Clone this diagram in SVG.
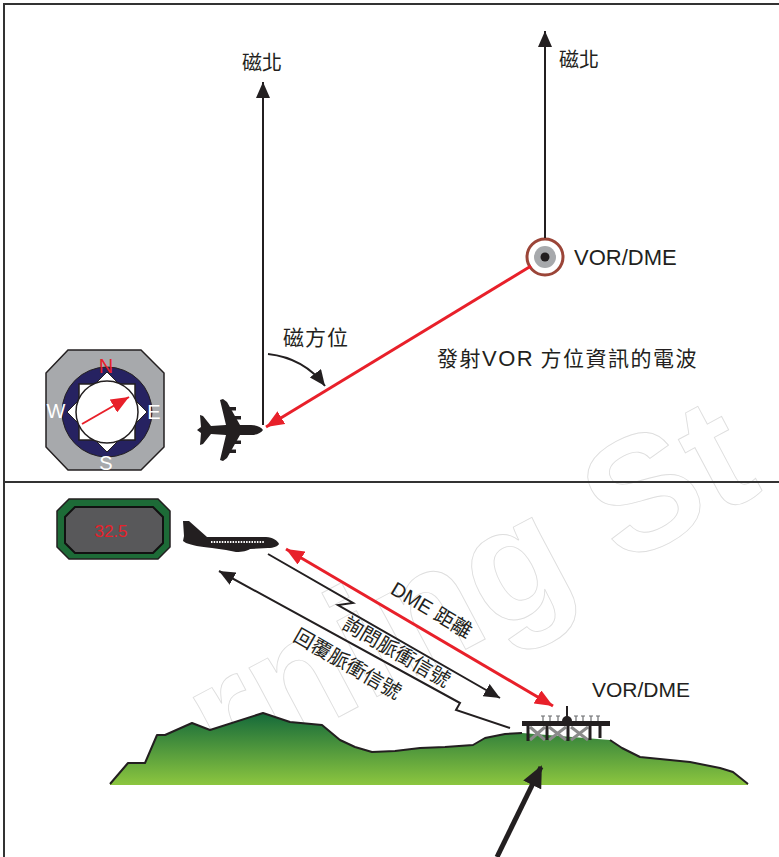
<svg xmlns="http://www.w3.org/2000/svg" width="779" height="857" viewBox="0 0 779 857">
  <style>
    .frame { fill: none; stroke: #333; stroke-width: 2; }
    .lbl { font-family: "Liberation Sans", "Noto Sans CJK TC", sans-serif; fill: #231f20; }
    .cjk { font-family: "Noto Sans CJK TC", "Liberation Sans", sans-serif; fill: #231f20; }
    .blk { stroke: #231f20; stroke-width: 2; fill: none; }
    .red { stroke: #e8202a; stroke-width: 3; fill: none; }
    .wm { font-family: "Liberation Sans", sans-serif; font-weight: bold; fill: none; stroke: #dedede; stroke-width: 0.9; }
    .dir { font-family: "Liberation Sans", sans-serif; font-size: 20px; fill: #fff; text-anchor: middle; }
  </style>
  <defs>
    <marker id="ahBlack" viewBox="0 0 16 14" refX="16" refY="7" markerWidth="16" markerHeight="14" orient="auto-start-reverse" markerUnits="userSpaceOnUse">
      <path d="M0,0 L16,7 L0,14 Z" fill="#231f20"/>
    </marker>
    <marker id="ahRed" viewBox="0 0 18 15" refX="18" refY="7.5" markerWidth="18" markerHeight="15" orient="auto-start-reverse" markerUnits="userSpaceOnUse">
      <path d="M0,0 L18,7.5 L0,15 Z" fill="#e8202a"/>
    </marker>
    <marker id="ahThick" viewBox="0 0 22 20" refX="20" refY="10" markerWidth="22" markerHeight="20" orient="auto" markerUnits="userSpaceOnUse">
      <path d="M0,0 L22,10 L0,20 Z" fill="#231f20"/>
    </marker>
    <linearGradient id="hill" x1="0" y1="713" x2="0" y2="785" gradientUnits="userSpaceOnUse">
      <stop offset="0" stop-color="#14693a"/>
      <stop offset="1" stop-color="#8cc63f"/>
    </linearGradient>
  </defs>

  <!-- watermark -->
  <text class="wm" font-size="162" transform="translate(224,778) rotate(-28)">rning St</text>

  <!-- panel frame -->
  <g id="frame">
    <path class="frame" d="M4,857 L4,4 L779,4"/>
    <path class="frame" d="M4,482 L779,482"/>
  </g>

  <!-- ===== upper panel ===== -->
  <g id="compass">
    <polygon points="68,350 141,350 164,373 164,447 141,470 68,470 46,447 46,373" fill="#a7a9ac" stroke="#231f20" stroke-width="1.5"/>
    <circle cx="107" cy="412" r="45" fill="#262261" stroke="#231f20" stroke-width="1"/>
    <polygon points="107,372 147,412 107,452 67,412" fill="#fff" stroke="#231f20" stroke-width="1"/>
    <rect x="79" y="384" width="56" height="56" fill="#fff" stroke="#231f20" stroke-width="1.5"/>
    <circle cx="107" cy="412" r="31" fill="#fff" stroke="#231f20" stroke-width="1.5"/>
    <line x1="82" y1="424" x2="129" y2="397" stroke="#e8202a" stroke-width="2" marker-end="url(#ahRed)"/>
    <text x="106" y="373" class="dir" style="fill:#e8202a">N</text>
    <text x="154" y="419" class="dir">E</text>
    <text x="56" y="418" class="dir">W</text>
    <text x="106" y="470" class="dir">S</text>
  </g>

  <g id="plane-top" transform="translate(263,430)">
    <path fill="#231f20" d="M0,0 C-2,-3 -6,-5 -12,-5 L-23,-5 L-36,-28 L-40,-31 L-43,-30 L-37,-5 L-52,-4 L-60,-14 L-63,-15 L-62,-3 L-66,0 L-62,3 L-63,15 L-60,14 L-52,4 L-37,5 L-43,30 L-40,31 L-36,28 L-23,5 L-12,5 C-6,5 -2,3 0,0 Z"/>
    <rect x="-31" y="-14" width="9" height="3.5" fill="#231f20"/>
    <rect x="-36" y="-23" width="9" height="3.5" fill="#231f20"/>
    <rect x="-31" y="10.5" width="9" height="3.5" fill="#231f20"/>
    <rect x="-36" y="19.5" width="9" height="3.5" fill="#231f20"/>
  </g>

  <g id="vor-top">
    <circle cx="545" cy="257" r="18" fill="#fff" stroke="#9b4538" stroke-width="3"/>
    <circle cx="545" cy="257" r="11" fill="#a7a9ac"/>
    <circle cx="545" cy="257" r="4.5" fill="#231f20"/>
    <text x="574" y="265" class="lbl" font-size="22">VOR/DME</text>
  </g>

  <g id="labels-top">
    <text x="262" y="70" class="cjk" font-size="20" text-anchor="middle">磁北</text>
    <text x="579" y="67" class="cjk" font-size="20" text-anchor="middle">磁北</text>
    <text x="283" y="345" class="cjk" font-size="21" letter-spacing="1">磁方位</text>
    <text x="437" y="366" class="cjk" font-size="21" letter-spacing="1.5">發射<tspan class="lbl" font-size="22">VOR</tspan> 方位資訊的電波</text>
  </g>

  <g id="connectors-top">
    <line class="blk" x1="263" y1="425" x2="263" y2="82" marker-end="url(#ahBlack)"/>
    <line class="blk" x1="545" y1="238" x2="545" y2="31" marker-end="url(#ahBlack)"/>
    <line class="red" x1="531" y1="266" x2="266" y2="427" marker-end="url(#ahRed)"/>
    <path class="blk" d="M268,354 Q304,358 325,386" marker-end="url(#ahBlack)"/>
  </g>

  <!-- ===== lower panel ===== -->
  <g id="dme-display">
    <polygon points="69,499 158,499 170,511 170,547 158,559 69,559 57,547 57,511" fill="#1d6b37" stroke="#231f20" stroke-width="1.5"/>
    <polygon points="75,507 153,507 163,517 163,543 153,553 75,553 65,543 65,517" fill="#58585a" stroke="#111" stroke-width="2"/>
    <text x="111" y="537" class="lbl" font-size="17" text-anchor="middle" style="fill:#e8202a">32.5</text>
  </g>

  <g id="plane-side">
    <path fill="#231f20" d="M183,521 L189,521 L207,537 L266,537 C273,537 278,541 279,544 C278,546 274,548 268,548 L250,549 C247,551 243,552 236,552 L226,550 L212,548 C200,547 192,545 186,543 L183,541 L184,536 Z"/>
    <line x1="211" y1="542" x2="264" y2="542" stroke="#fff" stroke-width="2" stroke-dasharray="1.5,1.2"/>
  </g>

  <g id="hill">
    <path fill="url(#hill)" d="M110,784 L128,763 L145,763 L157,735 L165,735 L192,723 L210,730 L263,713 L290,722 L322,725 L340,740 L355,747 L372,752 L395,751 L420,748 L445,747 L473,745 L485,738 L505,734 L522,733 L610,740 L622,748 L640,757 L690,762 L720,768 L733,772 L748,784 L748,785 L110,785 Z"/>
    <path fill="none" stroke="#231f20" stroke-width="2" stroke-linejoin="round" d="M110,784 L128,763 L145,763 L157,735 L165,735 L192,723 L210,730 L263,713 L290,722 L322,725 L340,740 L355,747 L372,752 L395,751 L420,748 L445,747 L473,745 L485,738 L505,734 L522,733 M610,740 L622,748 L640,757 L690,762 L720,768 L733,772 L748,784"/>
  </g>

  <g id="vor-station">
    <g stroke="#8a8a8a" stroke-width="3">
      <line x1="530" y1="727" x2="545" y2="740"/><line x1="545" y1="727" x2="530" y2="740"/>
      <line x1="549" y1="727" x2="566" y2="740"/><line x1="566" y1="727" x2="549" y2="740"/>
      <line x1="571" y1="727" x2="588" y2="740"/><line x1="588" y1="727" x2="571" y2="740"/>
    </g>
    <g stroke="#231f20" stroke-width="3">
      <line x1="528" y1="724" x2="528" y2="741"/>
      <line x1="547" y1="724" x2="547" y2="740"/>
      <line x1="568" y1="724" x2="568" y2="741"/>
      <line x1="590" y1="724" x2="590" y2="740"/>
      <line x1="600" y1="724" x2="600" y2="738"/>
    </g>
    <rect x="522" y="721" width="88" height="5" fill="#231f20"/>
    <g stroke="#6d6e71" stroke-width="1.2">
      <path d="M541,716 h4 M543,716 v5 M548,716 h4 M550,716 v5 M556,716 h4 M558,716 v5 M574,716 h4 M576,716 v5 M581,716 h4 M583,716 v5 M589,716 h4 M591,716 v5 M596,716 h4 M598,716 v5"/>
    </g>
    <line x1="567" y1="706" x2="567" y2="718" stroke="#231f20" stroke-width="2"/>
    <path d="M562,721 a5,5 0 0 1 10,0 Z" fill="#231f20"/>
    <text x="592" y="697" class="lbl" font-size="21">VOR/DME</text>
  </g>

  <g id="connectors-bottom">
    <line class="red" x1="286" y1="549" x2="553" y2="706" marker-start="url(#ahRed)" marker-end="url(#ahRed)"/>
    <polyline class="blk" points="268,554 353,603 338,605 500,698" stroke-width="1.8" marker-end="url(#ahBlack)"/>
    <polyline class="blk" points="219,571 460,703 456,710 510,728" stroke-width="1.8" marker-start="url(#ahBlack)"/>
    <line x1="497" y1="857" x2="541" y2="767" stroke="#231f20" stroke-width="5" marker-end="url(#ahThick)"/>
  </g>

  <g id="labels-bottom">
    <text class="lbl" font-size="20" text-anchor="middle" transform="translate(428,616) rotate(30.6)">DME <tspan class="cjk">距離</tspan></text>
    <text class="cjk" font-size="20" text-anchor="middle" transform="translate(393,658) rotate(30)">詢問脈衝信號</text>
    <text class="cjk" font-size="20" text-anchor="middle" transform="translate(344,670) rotate(30)">回覆脈衝信號</text>
  </g>
</svg>
